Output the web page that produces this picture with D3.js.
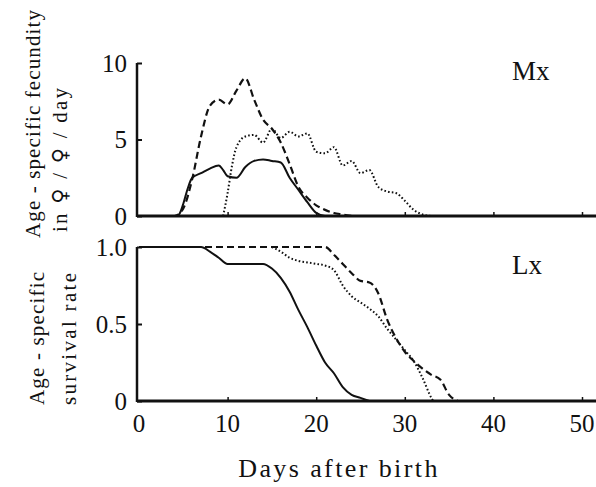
<!DOCTYPE html>
<html>
<head>
<meta charset="utf-8">
<script src="https://cdn.jsdelivr.net/npm/d3@7"></script>
<style>
  body { margin: 0; background: #fff; }
</style>
</head>
<body>
<svg id="chart" width="596" height="487"></svg>
<script>
// Mx : age-specific fecundity (per female per day)
const mxSolid = [
  [0, 0], [4, 0], [4.5, 0.1], [5, 0.8], [5.5, 1.8], [6, 2.5], [7, 2.8], [8, 3.1], [9, 3.3],
  [9.5, 3.0], [10, 2.6], [11, 2.5], [12, 3.2], [13, 3.6], [14, 3.7], [15, 3.6], [16, 3.5],
  [17, 2.5], [18, 1.7], [19, 0.9], [20, 0.2], [21, 0], [52, 0]
];
const mxDashed = [
  [0, 0], [4, 0], [5, 0.5], [6, 2.4], [7, 5.2], [8, 7.2], [9, 7.6], [10, 7.3], [11, 8.2],
  [12, 9.0], [13, 7.6], [14, 6.3], [15, 5.7], [16, 4.8], [17, 3.4], [18, 1.9], [19, 1.2],
  [20, 0.7], [21, 0.4], [22, 0.2], [23, 0.1], [24, 0]
];
const mxDotted = [
  [9.5, 0], [10, 1.5], [10.5, 3.3], [11, 4.5], [12, 5.2], [13, 5.3], [14, 4.8], [15, 5.7],
  [16, 5.1], [17, 5.5], [18, 5.2], [19, 5.4], [20, 4.2], [21, 4.1], [22, 4.5], [23, 3.3],
  [24, 3.6], [25, 2.8], [26, 3.0], [27, 1.9], [28, 1.6], [29, 1.5], [30, 1.0], [31, 0.4],
  [32, 0.1], [33, 0]
];

// Lx : age-specific survival rate
const lxSolid = [
  [0, 1], [7, 1], [8, 0.97], [9, 0.93], [10, 0.89], [14, 0.89], [15, 0.86], [16, 0.80],
  [17, 0.71], [18, 0.59], [19, 0.48], [20, 0.36], [21, 0.25], [22, 0.18], [23, 0.09],
  [24, 0.04], [25, 0.02], [26, 0]
];
const lxDashed = [
  [0, 1], [21, 1], [22, 0.95], [23, 0.89], [24, 0.83], [25, 0.78], [26, 0.77], [27, 0.70],
  [28, 0.53], [29, 0.41], [30, 0.32], [31, 0.26], [32, 0.21], [33, 0.17], [34, 0.14],
  [35, 0.04], [36, 0]
];
const lxDotted = [
  [15, 1], [16, 0.97], [17, 0.93], [18, 0.91], [19, 0.90], [20, 0.89], [21, 0.88], [22, 0.85],
  [23, 0.75], [24, 0.68], [25, 0.64], [26, 0.60], [27, 0.55], [28, 0.47], [29, 0.40],
  [30, 0.33], [31, 0.26], [32, 0.15], [33, 0.02], [33.2, 0]
];

const xTicks = [0, 10, 20, 30, 40, 50];
const mxTicks = [0, 5, 10];
const lxTicks = [0, 0.5, 1.0];

const FONT = 'Liberation Serif';
const SYMBOL_FONT = 'DejaVu Serif';

const svg = d3.select('#chart');

const x = d3.scaleLinear().domain([0, 50]).range([139, 582]);
const yMx = d3.scaleLinear().domain([0, 10]).range([216, 63]);
const yLx = d3.scaleLinear().domain([0, 1]).range([401, 247]);

const AXIS_LEFT = 137;
const AXIS_RIGHT = 596;

const styles = {
  solid: { dash: null, width: 2 },
  dashed: { dash: '7,4', width: 2.2 },
  dotted: { dash: '1.6,2.2', width: 2 }
};

function drawPanel(yScale, series, yTicks, yFormat, label, labelY) {
  const g = svg.append('g');

  // y axis
  const [y0, y1] = yScale.range();
  g.append('line')
    .attr('x1', AXIS_LEFT).attr('x2', AXIS_LEFT)
    .attr('y1', y0 + 1).attr('y2', y1)
    .attr('stroke', '#111').attr('stroke-width', 2.5);

  const yAxis = g.append('g')
    .attr('transform', `translate(${AXIS_LEFT},0)`)
    .call(d3.axisRight(yScale).tickValues(yTicks).tickSize(5).tickFormat(() => ''));
  yAxis.select('.domain').remove();
  yAxis.selectAll('line').attr('stroke', '#111').attr('stroke-width', 2);

  g.selectAll('text.ytick')
    .data(yTicks)
    .join('text')
    .attr('class', 'ytick')
    .attr('x', 127)
    .attr('y', d => yScale(d))
    .attr('dy', '0.34em')
    .attr('text-anchor', 'end')
    .attr('font-family', FONT)
    .attr('font-size', 25)
    .attr('fill', '#111')
    .text(yFormat);

  // x baseline with small inward ticks
  const xAxis = g.append('g')
    .attr('transform', `translate(0,${y0})`)
    .call(d3.axisTop(x).tickValues(xTicks.slice(1)).tickSize(4).tickFormat(() => ''));
  xAxis.select('.domain').remove();
  xAxis.selectAll('line').attr('stroke', '#111').attr('stroke-width', 1.5);

  g.append('line')
    .attr('x1', AXIS_LEFT).attr('x2', AXIS_RIGHT)
    .attr('y1', y0).attr('y2', y0)
    .attr('stroke', '#111').attr('stroke-width', 3);

  const line = d3.line()
    .x(d => x(d[0]))
    .y(d => yScale(d[1]))
    .curve(d3.curveMonotoneX);

  series.forEach(s => {
    g.append('path')
      .datum(s.data)
      .attr('d', line)
      .attr('fill', 'none')
      .attr('stroke', '#111')
      .attr('stroke-width', styles[s.style].width)
      .attr('stroke-dasharray', styles[s.style].dash);
  });

  g.append('text')
    .attr('x', 512)
    .attr('y', labelY)
    .attr('font-family', FONT)
    .attr('font-size', 27)
    .attr('fill', '#111')
    .text(label);
}

drawPanel(yMx, [
  { data: mxSolid, style: 'solid' },
  { data: mxDashed, style: 'dashed' },
  { data: mxDotted, style: 'dotted' }
], mxTicks, d => d, 'Mx', 80);

drawPanel(yLx, [
  { data: lxSolid, style: 'solid' },
  { data: lxDashed, style: 'dashed' },
  { data: lxDotted, style: 'dotted' }
], lxTicks, d => d === 0 ? '0' : d.toFixed(1), 'Lx', 274);

// x tick labels under the lower panel
svg.selectAll('text.xtick')
  .data(xTicks)
  .join('text')
  .attr('class', 'xtick')
  .attr('x', d => x(d))
  .attr('y', 432)
  .attr('text-anchor', 'middle')
  .attr('font-family', FONT)
  .attr('font-size', 25)
  .attr('fill', '#111')
  .text(d => d);

svg.append('text')
  .attr('x', 339)
  .attr('y', 477)
  .attr('text-anchor', 'middle')
  .attr('font-family', FONT)
  .attr('font-size', 26)
  .attr('letter-spacing', 2.4)
  .attr('fill', '#111')
  .text('Days after birth');

// rotated y titles; each is a list of [text, font] pieces
const yTitles = [
  { parts: [['Age - specific fecundity', FONT]], x: 40, y: 238, len: 228 },
  { parts: [['in ', FONT], ['♀', SYMBOL_FONT], [' / ', FONT], ['♀', SYMBOL_FONT], [' / day', FONT]], x: 67, y: 232, len: 144 },
  { parts: [['Age - specific', FONT]], x: 44, y: 405, len: 133 },
  { parts: [['survival rate', FONT]], x: 76, y: 405, len: 132 }
];

yTitles.forEach(t => {
  const txt = svg.append('text')
    .attr('transform', `translate(${t.x},${t.y}) rotate(-90)`)
    .attr('textLength', t.len)
    .attr('lengthAdjust', 'spacing')
    .attr('font-family', FONT)
    .attr('font-size', 21)
    .attr('fill', '#111');
  t.parts.forEach(([s, fam]) => {
    txt.append('tspan').attr('font-family', fam).text(s);
  });
});
</script>
</body>
</html>
